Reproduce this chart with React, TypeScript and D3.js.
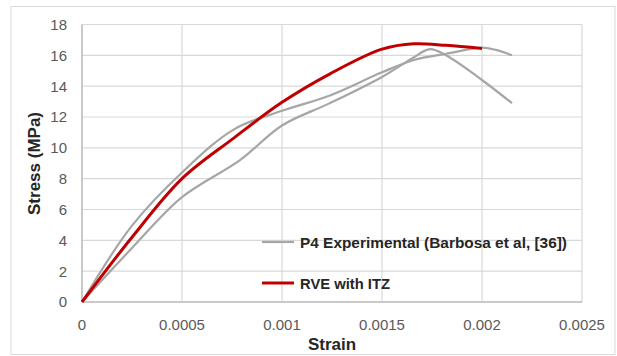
import React from "react";
import * as d3 from "d3";

const xTicks = [0, 0.0005, 0.001, 0.0015, 0.002, 0.0025];
const xTickLabels = ["0", "0.0005", "0.001", "0.0015", "0.002", "0.0025"];
const yTicks = [0, 2, 4, 6, 8, 10, 12, 14, 16, 18];

// P4 Experimental, specimen A (upper early curve)
const expAStrain = [0, 0.00025, 0.0005, 0.00076, 0.001, 0.00124, 0.0015, 0.00166, 0.00182, 0.002, 0.00207, 0.00215];
const expAStress = [0, 4.95, 8.4, 11.2, 12.4, 13.4, 14.9, 15.7, 16.1, 16.5, 16.35, 16.0];
// P4 Experimental, specimen B
const expBStrain = [0, 0.00025, 0.0005, 0.00079, 0.001, 0.00124, 0.0015, 0.00165, 0.00174, 0.00182, 0.002, 0.00215];
const expBStress = [0, 3.5, 6.8, 9.2, 11.45, 12.9, 14.6, 15.8, 16.4, 16.0, 14.4, 12.9];
// RVE with ITZ
const rveStrain = [0, 0.00025, 0.0005, 0.00075, 0.001, 0.00124, 0.0015, 0.00166, 0.00182, 0.002];
const rveStress = [0, 4.2, 8.0, 10.55, 12.95, 14.8, 16.4, 16.75, 16.65, 16.45];

const legendLabels = ["P4 Experimental (Barbosa et al, [36])", "RVE with ITZ"];

const W = 617, H = 356;
const L = 82, R = 582, T = 24.5, B = 302;

export default function App() {
  const x = d3.scaleLinear().domain([0, 0.0025]).range([L, R]);
  const y = d3.scaleLinear().domain([0, 18]).range([B, T]);
  const line = d3.line<[number, number]>()
    .x(d => x(d[0])).y(d => y(d[1]))
    .curve(d3.curveCatmullRom.alpha(0.5));
  const zip = (a: number[], b: number[]) => a.map((v, i) => [v, b[i]] as [number, number]);
  const font = "'Liberation Sans', Arial, sans-serif";
  const gray = "#a6a6a6";
  const red = "#c00000";
  return (
    <svg width={W} height={H} style={{ position: "absolute", left: 0, top: 0, background: "#fff" }} fontFamily={font}>
      <rect x={11} y={6.5} width={604} height={348} fill="#fff" stroke="#d9d9d9" strokeWidth={1} />
      {yTicks.map(t => (
        <line key={"yg" + t} x1={L} x2={R} y1={y(t)} y2={y(t)} stroke="#d9d9d9" strokeWidth={1.2} />
      ))}
      {xTicks.map(t => (
        <line key={"xg" + t} x1={x(t)} x2={x(t)} y1={T} y2={B} stroke="#d9d9d9" strokeWidth={1.2} />
      ))}
      <line x1={L} x2={R} y1={B} y2={B} stroke="#bfbfbf" strokeWidth={1.5} />
      <line x1={L} x2={L} y1={T} y2={B} stroke="#bfbfbf" strokeWidth={1.5} />
      {yTicks.map(t => (
        <text key={"yl" + t} x={67} y={y(t)} dy="0.36em" textAnchor="end" fontSize={15} fill="#595959">{t}</text>
      ))}
      {xTicks.map((t, i) => (
        <text key={"xl" + t} x={x(t)} y={330} textAnchor="middle" fontSize={15} fill="#595959">{xTickLabels[i]}</text>
      ))}
      <path d={line(zip(expAStrain, expAStress)) || ""} fill="none" stroke={gray} strokeWidth={2.2} />
      <path d={line(zip(expBStrain, expBStress)) || ""} fill="none" stroke={gray} strokeWidth={2.2} />
      <path d={line(zip(rveStrain, rveStress)) || ""} fill="none" stroke={red} strokeWidth={3} />
      <line x1={262} x2={294} y1={242} y2={242} stroke={gray} strokeWidth={2.2} />
      <text x={300} y={247.5} fontSize={14.5} fontWeight="bold" fill="#262626" textLength={267} lengthAdjust="spacingAndGlyphs">{legendLabels[0]}</text>
      <line x1={262} x2={294} y1={283} y2={283} stroke={red} strokeWidth={3} />
      <text x={300} y={288.5} fontSize={14.5} fontWeight="bold" fill="#262626" textLength={90} lengthAdjust="spacingAndGlyphs">{legendLabels[1]}</text>
      <text x={332} y={350} textAnchor="middle" fontSize={17} fontWeight="bold" fill="#262626">Strain</text>
      <text transform={`translate(40,163.5) rotate(-90)`} textAnchor="middle" fontSize={17} fontWeight="bold" fill="#262626">Stress (MPa)</text>
    </svg>
  );
}
